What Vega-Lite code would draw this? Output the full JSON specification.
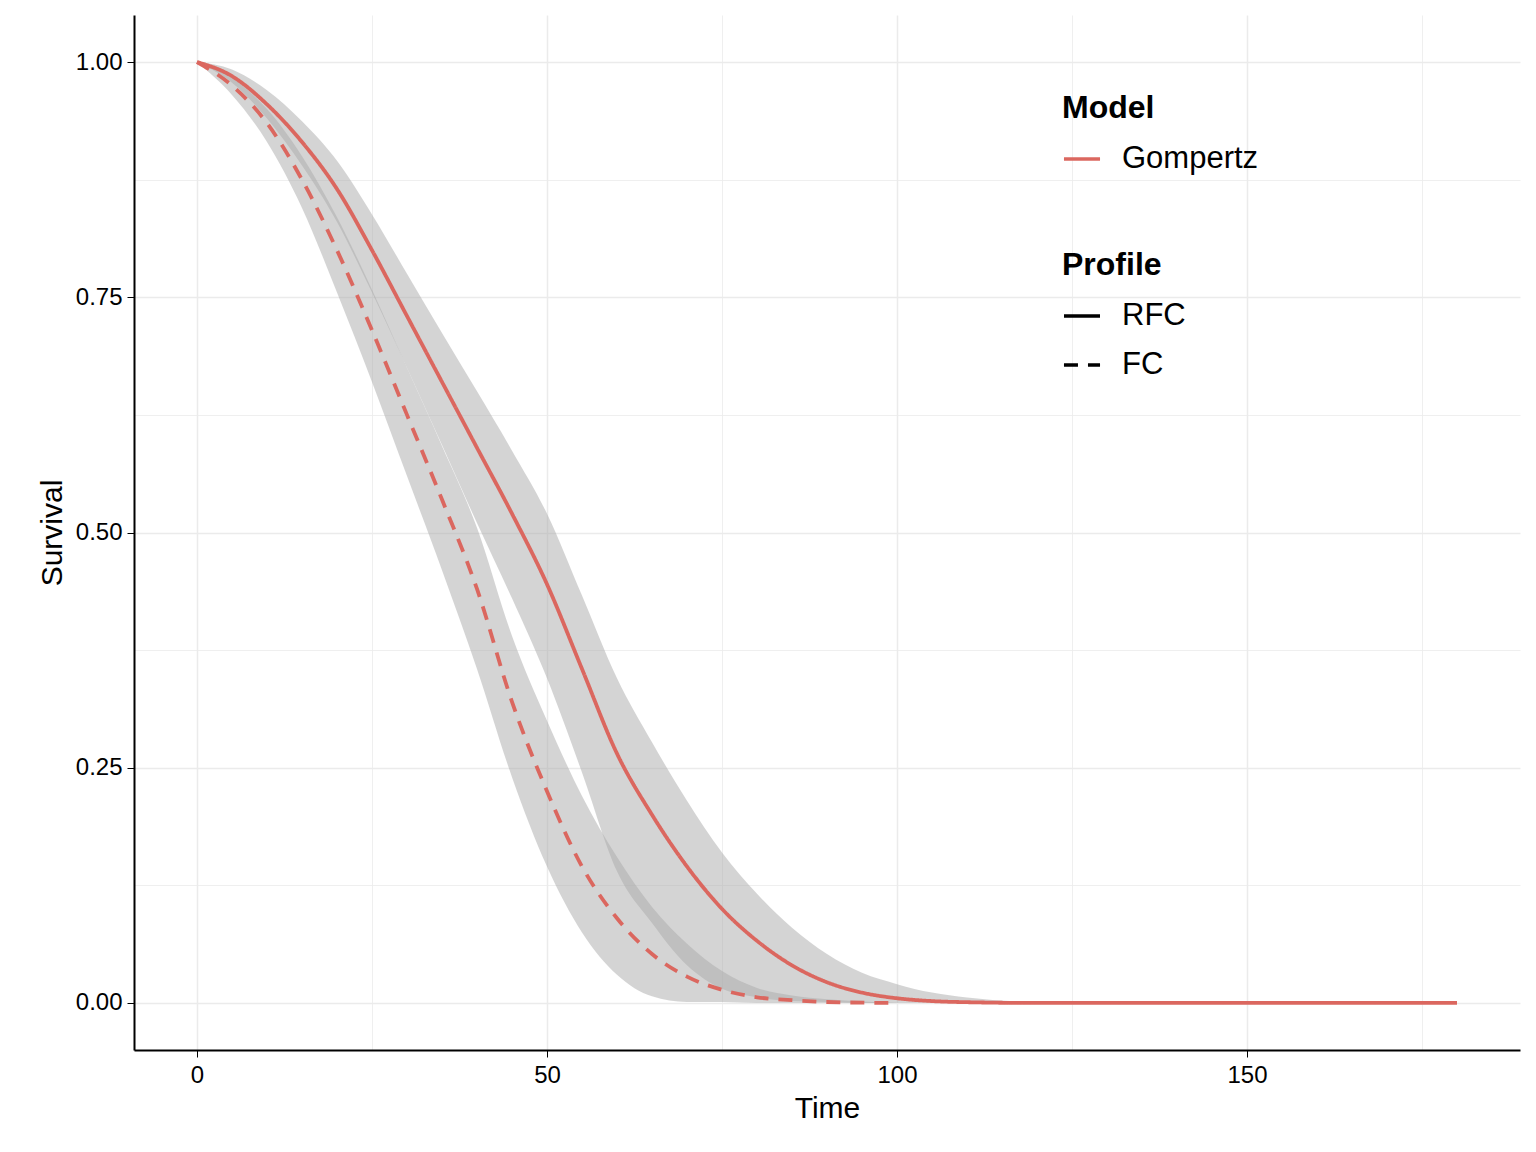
{
  "$schema": "https://vega.github.io/schema/vega-lite/v6.json",
  "width": 1386,
  "height": 1035,
  "autosize": "none",
  "padding": {"left": 134, "top": 15, "right": 16, "bottom": 102},
  "background": "white",
  "config": {
    "font": "Liberation Sans",
    "view": {"stroke": null},
    "axis": {
      "domainColor": "black", "domainWidth": 2, "tickColor": "black", "tickSize": 7,
      "labelFontSize": 24, "labelColor": "black", "titleFontSize": 30, "titleFontWeight": "normal", "titleColor": "black",
      "gridColor": "#ebebeb", "gridWidth": 1.5
    },
    "legend": {"titleFontSize": 32, "titleFontWeight": "bold", "labelFontSize": 31, "labelColor": "black", "titleColor": "black", "symbolSize": 1300, "symbolStrokeWidth": 3.5, "rowPadding": 14, "titlePadding": 14, "labelOffset": 20}
  },
  "data": {"values": [
    {"t":0,"p":"RFC","s":1,"lo":1,"hi":1},
    {"t":5,"p":"RFC","s":0.985,"lo":0.978,"hi":0.992},
    {"t":10,"p":"RFC","s":0.955,"lo":0.94,"hi":0.97},
    {"t":15,"p":"RFC","s":0.915,"lo":0.89,"hi":0.937},
    {"t":20,"p":"RFC","s":0.865,"lo":0.83,"hi":0.895},
    {"t":25,"p":"RFC","s":0.80,"lo":0.755,"hi":0.838},
    {"t":30,"p":"RFC","s":0.73,"lo":0.675,"hi":0.775},
    {"t":35,"p":"RFC","s":0.66,"lo":0.593,"hi":0.712},
    {"t":40,"p":"RFC","s":0.59,"lo":0.51,"hi":0.65},
    {"t":45,"p":"RFC","s":0.52,"lo":0.43,"hi":0.587},
    {"t":50,"p":"RFC","s":0.445,"lo":0.345,"hi":0.52},
    {"t":55,"p":"RFC","s":0.355,"lo":0.245,"hi":0.433},
    {"t":60,"p":"RFC","s":0.265,"lo":0.14,"hi":0.345},
    {"t":65,"p":"RFC","s":0.20,"lo":0.085,"hi":0.277},
    {"t":70,"p":"RFC","s":0.145,"lo":0.04,"hi":0.215},
    {"t":75,"p":"RFC","s":0.10,"lo":0.015,"hi":0.16},
    {"t":80,"p":"RFC","s":0.066,"lo":0.006,"hi":0.116},
    {"t":85,"p":"RFC","s":0.04,"lo":0.002,"hi":0.08},
    {"t":90,"p":"RFC","s":0.022,"lo":0.001,"hi":0.052},
    {"t":95,"p":"RFC","s":0.011,"lo":0,"hi":0.032},
    {"t":100,"p":"RFC","s":0.005,"lo":0,"hi":0.02},
    {"t":105,"p":"RFC","s":0.002,"lo":0,"hi":0.011},
    {"t":110,"p":"RFC","s":0.0008,"lo":0,"hi":0.0058},
    {"t":120,"p":"RFC","s":0,"lo":0,"hi":0.001},
    {"t":140,"p":"RFC","s":0,"lo":0,"hi":0},
    {"t":160,"p":"RFC","s":0,"lo":0,"hi":0},
    {"t":180,"p":"RFC","s":0,"lo":0,"hi":0},
    {"t":0,"p":"FC","s":1,"lo":1,"hi":1},
    {"t":5,"p":"FC","s":0.975,"lo":0.965,"hi":0.983},
    {"t":10,"p":"FC","s":0.935,"lo":0.915,"hi":0.95},
    {"t":15,"p":"FC","s":0.875,"lo":0.845,"hi":0.9},
    {"t":20,"p":"FC","s":0.80,"lo":0.755,"hi":0.835},
    {"t":25,"p":"FC","s":0.715,"lo":0.66,"hi":0.758},
    {"t":30,"p":"FC","s":0.625,"lo":0.56,"hi":0.675},
    {"t":35,"p":"FC","s":0.535,"lo":0.46,"hi":0.592},
    {"t":40,"p":"FC","s":0.44,"lo":0.355,"hi":0.505},
    {"t":45,"p":"FC","s":0.32,"lo":0.24,"hi":0.39},
    {"t":50,"p":"FC","s":0.225,"lo":0.145,"hi":0.30},
    {"t":55,"p":"FC","s":0.145,"lo":0.075,"hi":0.22},
    {"t":60,"p":"FC","s":0.09,"lo":0.03,"hi":0.155},
    {"t":65,"p":"FC","s":0.052,"lo":0.007,"hi":0.102},
    {"t":70,"p":"FC","s":0.028,"lo":0.001,"hi":0.063},
    {"t":75,"p":"FC","s":0.014,"lo":0.001,"hi":0.034},
    {"t":80,"p":"FC","s":0.006,"lo":0,"hi":0.016},
    {"t":85,"p":"FC","s":0.003,"lo":0,"hi":0.008},
    {"t":90,"p":"FC","s":0.001,"lo":0,"hi":0.004},
    {"t":100,"p":"FC","s":0,"lo":0,"hi":0}
  ]},
  "transform": [{"calculate": "'Gompertz'", "as": "Model"}],
  "encoding": {
    "x": {"field": "t", "type": "quantitative", "title": "Time",
      "scale": {"domain": [-9, 189], "nice": false, "zero": false},
      "axis": {"values": [0, 25, 50, 75, 100, 125, 150, 175],
        "labelExpr": "datum.value % 50 == 0 ? datum.label : ''",
        "tickOpacity": {"condition": {"test": "datum.value % 50 != 0", "value": 0}, "value": 1},
        "gridWidth": {"condition": {"test": "datum.value % 50 != 0", "value": 0.8}, "value": 1.5},
        "labelPadding": 6, "titlePadding": 6}},
    "y": {"field": "s", "type": "quantitative", "title": "Survival",
      "scale": {"domain": [-0.05, 1.05], "nice": false, "zero": false},
      "axis": {"values": [0, 0.125, 0.25, 0.375, 0.5, 0.625, 0.75, 0.875, 1],
        "format": ".2f",
        "labelExpr": "datum.value * 4 % 1 == 0 ? format(datum.value, '.2f') : ''",
        "tickOpacity": {"condition": {"test": "datum.value * 4 % 1 != 0", "value": 0}, "value": 1},
        "gridWidth": {"condition": {"test": "datum.value * 4 % 1 != 0", "value": 0.8}, "value": 1.5},
        "labelPadding": 5, "titlePadding": 8}}
  },
  "layer": [
    {
      "mark": {"type": "area", "interpolate": "monotone", "color": "#aaaaaa", "opacity": 0.5},
      "encoding": {"y": {"field": "lo", "type": "quantitative"}, "y2": {"field": "hi"}, "detail": {"field": "p"}}
    },
    {
      "mark": {"type": "line", "interpolate": "monotone", "strokeWidth": 3.8},
      "encoding": {
        "color": {"field": "Model", "type": "nominal", "scale": {"range": ["#DB675F"]},
          "legend": {"orient": "none", "legendX": 928, "legendY": 78, "title": "Model", "symbolType": "stroke"}},
        "strokeDash": {"field": "p", "type": "nominal", "sort": ["RFC", "FC"],
          "scale": {"domain": ["RFC", "FC"], "range": [[1, 0], [14, 10]]},
          "legend": {"orient": "none", "legendX": 928, "legendY": 235, "title": "Profile", "symbolType": "stroke", "symbolStrokeColor": "black"}}
      }
    }
  ]
}
